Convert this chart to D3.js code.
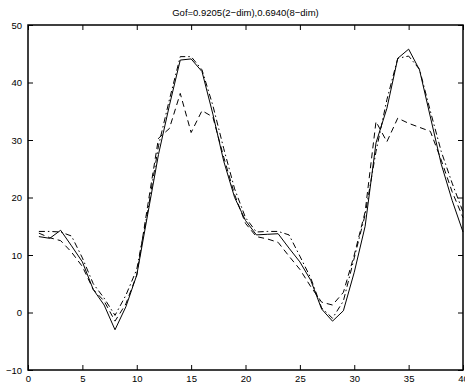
<!DOCTYPE html>
<html>
<head>
<meta charset="utf-8">
<script src="https://cdn.jsdelivr.net/npm/d3@7"></script>
<style>
  body { margin: 0; background: #fff; }
  svg { display: block; font-family: "Liberation Sans", Arial, sans-serif; }
</style>
</head>
<body>
<div id="chart"></div>
<script>
// sample index 1..40
const xs = d3.range(1, 41);
// measured data (solid)
const observed = [13.2, 12.9, 14.3, 11.6, 8.8, 4.0, 1.3, -3.0, 1.0, 6.5,
  17.0, 27.5, 36.0, 43.9, 44.1, 41.9, 34.5, 26.3, 20.0, 16.0,
  13.5, 13.6, 13.7, 11.2, 8.8, 5.6, 0.6, -1.5, 0.3, 7.0,
  15.0, 29.5, 35.5, 44.2, 45.8, 42.2, 34.0, 25.8, 19.5, 14.0];
// 2-dim fit (dash-dot)
const fit2 = [14.1, 14.1, 14.0, 13.3, 9.5, 5.0, 2.5, -0.5, 3.0, 7.5,
  17.5, 29.0, 37.0, 44.5, 44.5, 42.2, 36.0, 28.5, 21.5, 16.5,
  14.0, 14.1, 14.1, 13.5, 9.8, 6.0, 0.8, -1.0, 2.0, 9.5,
  17.0, 28.0, 37.0, 44.2, 44.6, 42.3, 35.0, 28.0, 22.5, 17.5];
// 8-dim fit (dashed)
const fit8 = [13.8, 13.0, 12.5, 10.5, 8.0, 4.0, 2.0, -1.5, 1.5, 6.5,
  18.5, 30.3, 32.0, 38.1, 31.3, 35.1, 34.0, 27.0, 20.5, 15.5,
  13.2, 12.8, 12.2, 9.8, 7.5, 4.5, 1.8, 1.3, 3.5, 10.0,
  17.5, 33.2, 29.7, 33.8, 32.9, 32.2, 31.5, 26.5, 21.0, 16.5];
const xTicks = [0, 5, 10, 15, 20, 25, 30, 35, 40];
const yTicks = [-10, 0, 10, 20, 30, 40, 50];
const title = 'Gof=0.9205(2\u2212dim),0.6940(8\u2212dim)';

const W = 465, H = 382;
const margin = { top: 25, right: 2, bottom: 12, left: 28 };
const width = W - margin.left - margin.right;
const height = H - margin.top - margin.bottom;

const svg = d3.select('#chart').append('svg')
  .attr('width', W)
  .attr('height', H);

const g = svg.append('g')
  .attr('transform', `translate(${margin.left},${margin.top})`);

const x = d3.scaleLinear().domain([0, 40]).range([0, width]);
const y = d3.scaleLinear().domain([-10, 50]).range([height, 0]);

// series
const series = [
  { values: observed, dash: null },
  { values: fit2, dash: '6,3,1.5,3' },
  { values: fit8, dash: '6,4' }
];
const line = vals => d3.line()
  .x((d, i) => x(xs[i]))
  .y(d => y(d))(vals);

series.forEach(s => {
  g.append('path')
    .attr('fill', 'none')
    .attr('stroke', '#000')
    .attr('stroke-width', 1)
    .attr('stroke-dasharray', s.dash)
    .attr('d', line(s.values));
});

// inward ticks on all four sides, matlab style
const tickLen = 5;
const axisStyle = sel => {
  sel.select('.domain').remove();
  sel.selectAll('line').attr('stroke', '#000');
  sel.selectAll('text').attr('fill', '#000').style('font-size', '9.5px');
};

g.append('g')
  .attr('transform', `translate(0,${height})`)
  .call(d3.axisBottom(x).tickValues(xTicks).tickSizeInner(-tickLen).tickSizeOuter(0).tickPadding(5))
  .call(axisStyle)
  .selectAll('text').attr('dy', '0.71em');

g.append('g')
  .call(d3.axisTop(x).tickValues(xTicks).tickSizeInner(-tickLen).tickSizeOuter(0).tickFormat(''))
  .call(axisStyle);

g.append('g')
  .call(d3.axisLeft(y).tickValues(yTicks).tickSizeInner(-tickLen).tickSizeOuter(0).tickPadding(6))
  .call(axisStyle);

g.append('g')
  .attr('transform', `translate(${width},0)`)
  .call(d3.axisRight(y).tickValues(yTicks).tickSizeInner(-tickLen).tickSizeOuter(0).tickFormat(''))
  .call(axisStyle);

// box
g.append('rect')
  .attr('width', width)
  .attr('height', height)
  .attr('fill', 'none')
  .attr('stroke', '#000')
  .attr('stroke-width', 1.5);

g.append('text')
  .attr('x', width / 2)
  .attr('y', -9)
  .attr('text-anchor', 'middle')
  .style('font-size', '9.5px')
  .text(title);
</script>
</body>
</html>
